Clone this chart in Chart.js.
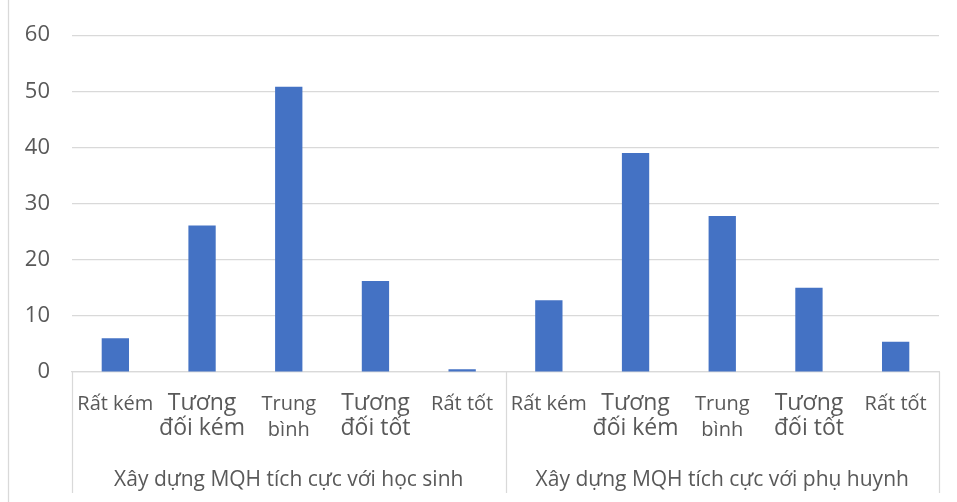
<!DOCTYPE html>
<html>
<head>
<meta charset="utf-8">
<script src="https://cdn.jsdelivr.net/npm/chart.js@4.4.1/dist/chart.umd.min.js"></script>
<style>
  html, body { margin: 0; padding: 0; background: #ffffff; }
  #wrap { width: 957px; height: 502px; position: relative; }
</style>
</head>
<body>
<div id="wrap"><canvas id="chart" width="957" height="502"></canvas></div>
<script>
// Rating levels shown under each bar (multi-line where the label wraps)
const levels = [
  ['Rất kém'],
  ['Tương', 'đối kém'],
  ['Trung', 'bình'],
  ['Tương', 'đối tốt'],
  ['Rất tốt']
];
// Two groups of the survey
const groups = [
  'Xây dựng MQH tích cực với học sinh',
  'Xây dựng MQH tích cực với phụ huynh'
];
// Percentages per level, one array per group
const hocSinh = [6.0, 26.1, 50.8, 16.2, 0.5];
const phuHuynh = [12.8, 39.0, 27.8, 15.0, 5.4];
// Y axis ticks
const yTicks = [0, 10, 20, 30, 40, 50, 60];

const labels = [...levels, ...levels];
const values = [...hocSinh, ...phuHuynh];

const TEXT = '#595959';
const LINE = '#d9d9d9';
const FAMILY = '"Open Sans", "Noto Sans", "DejaVu Sans", sans-serif';

// font used for each level label
function levelFont(lbl) {
  const first = Array.isArray(lbl) ? lbl[0] : lbl;
  if (first === 'Tương') return { family: FAMILY, size: 23, lineHeight: '25px' };
  if (first === 'Trung') return { family: FAMILY, size: 20, lineHeight: '26px' };
  return { family: FAMILY, size: 20, lineHeight: '26.6px' };
}

const groupAxis = {
  id: 'groupAxis',
  beforeDraw(chart) {
    const ctx = chart.ctx;
    ctx.save();
    ctx.strokeStyle = LINE;
    ctx.lineWidth = 1.25;
    ctx.beginPath();
    ctx.moveTo(8.5, 0);
    ctx.lineTo(8.5, chart.height);
    ctx.stroke();
    ctx.restore();
  },
  afterDraw(chart) {
    const ctx = chart.ctx;
    const x = chart.scales.x;
    const area = chart.chartArea;
    const n = levels.length;
    const bottom = 493;
    const bounds = [area.left];
    for (let g = 1; g < groups.length; g++) bounds.push(x.getPixelForValue(g * n - 0.5));
    bounds.push(area.right);
    ctx.save();
    ctx.strokeStyle = LINE;
    ctx.lineWidth = 1.25;
    bounds.forEach(b => {
      ctx.beginPath();
      ctx.moveTo(Math.round(b) + 0.5, area.bottom);
      ctx.lineTo(Math.round(b) + 0.5, bottom);
      ctx.stroke();
    });
    ctx.fillStyle = TEXT;
    ctx.font = '21px ' + FAMILY;
    ctx.textAlign = 'center';
    ctx.textBaseline = 'alphabetic';
    groups.forEach((g, i) => {
      ctx.fillText(g, (bounds[i] + bounds[i + 1]) / 2, 485.5);
    });
    ctx.restore();
  }
};

new Chart(document.getElementById('chart'), {
  type: 'bar',
  data: {
    labels: labels,
    datasets: [{
      data: values,
      backgroundColor: '#4472C4',
      borderWidth: 0,
      barPercentage: 0.315,
      categoryPercentage: 1
    }]
  },
  options: {
    responsive: false,
    devicePixelRatio: 1,
    animation: false,
    layout: { padding: { top: 33, right: 18, bottom: 0, left: 0 } },
    plugins: { legend: { display: false }, tooltip: { enabled: false } },
    scales: {
      x: {
        offset: true,
        grid: { display: false, drawTicks: false },
        border: { display: true, color: LINE, width: 1.25 },
        ticks: {
          color: TEXT,
          autoSkip: false,
          maxRotation: 0,
          minRotation: 0,
          padding: 19,
          font: (ctx) => levelFont(labels[ctx.index])
        },
        afterFit(scale) {
          scale.height = 130;
          scale.paddingLeft = 0;
          scale.paddingRight = 0;
        }
      },
      y: {
        min: yTicks[0],
        max: yTicks[yTicks.length - 1],
        afterBuildTicks(scale) {
          scale.ticks = yTicks.map(v => ({ value: v }));
        },
        grid: { color: LINE, lineWidth: 1.25, drawTicks: false },
        border: { display: false },
        ticks: {
          color: TEXT,
          padding: 22,
          font: { family: FAMILY, size: 22 }
        },
        afterFit(scale) {
          scale.width = 72;
        }
      }
    }
  },
  plugins: [groupAxis]
});
</script>
</body>
</html>
